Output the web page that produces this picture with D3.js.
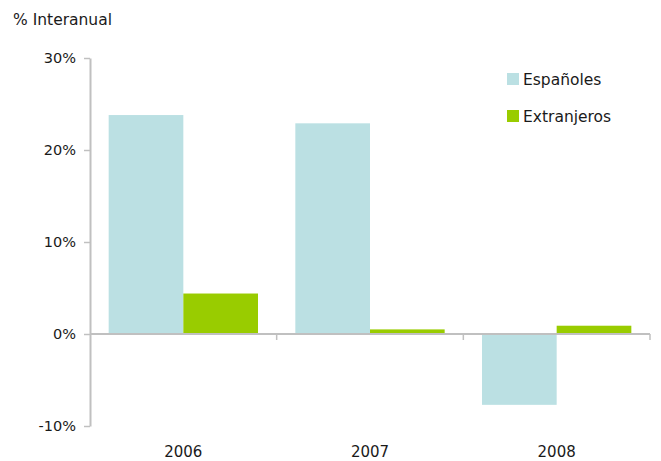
<!DOCTYPE html>
<html>
<head>
<meta charset="utf-8">
<script src="https://cdn.jsdelivr.net/npm/d3@7"></script>
<style>
  html, body { margin: 0; padding: 0; background: #fff; }
  svg { display: block; }
  text { font-family: "DejaVu Sans", sans-serif; fill: #1a1a1a; }
</style>
</head>
<body>
<svg id="chart" width="661" height="461"></svg>
<script>
// Year-on-year change (%) by nationality
const years = ["2006", "2007", "2008"];
const seriesNames = ["Españoles", "Extranjeros"];
const espanoles = [23.8, 22.9, -7.7];
const extranjeros = [4.4, 0.5, 0.9];
const yTicks = [-10, 0, 10, 20, 30];
const colors = ["#bbe0e3", "#99cc00"];
const fontStack = "'DejaVu Sans', sans-serif";

const svg = d3.select("#chart");
const plotLeft = 90, plotRight = 650, plotTop = 58, plotBottom = 426;

const x = d3.scaleBand().domain(years).range([plotLeft, plotRight]).paddingInner(0).paddingOuter(0);
const y = d3.scaleLinear().domain([-10, 30]).range([plotBottom, plotTop]);
const inner = d3.scaleBand().domain(seriesNames).range([0, x.bandwidth()]).paddingInner(0).paddingOuter(0.25);

const rows = years.map((yr, i) => ({ year: yr, values: [espanoles[i], extranjeros[i]] }));

// Bars
const groups = svg.append("g").selectAll("g").data(rows).join("g")
  .attr("transform", d => `translate(${x(d.year)},0)`);
groups.selectAll("rect")
  .data(d => d.values.map((v, k) => ({ v, k })))
  .join("rect")
  .attr("x", d => inner(seriesNames[d.k]))
  .attr("width", inner.bandwidth())
  .attr("y", d => y(Math.max(0, d.v)))
  .attr("height", d => Math.abs(y(d.v) - y(0)))
  .attr("fill", d => colors[d.k]);

// Y axis
const yAxis = svg.append("g").attr("transform", `translate(${plotLeft},0)`)
  .call(d3.axisLeft(y).tickValues(yTicks).tickFormat(d => d + "%").tickSize(6).tickSizeOuter(0).tickPadding(8));
yAxis.select(".domain").attr("stroke", "#c0c0c0").attr("stroke-width", 2);
yAxis.selectAll(".tick line").attr("stroke", "#c0c0c0").attr("stroke-width", 1.5);
yAxis.selectAll(".tick text").attr("font-size", 14.5).attr("fill", "#1a1a1a")
  .style("font-family", fontStack);

// X axis line at zero with category separators
const xAxis = svg.append("g").attr("transform", `translate(0,${y(0)})`);
xAxis.append("line").attr("x1", plotLeft).attr("x2", plotRight).attr("y1", 0).attr("y2", 0)
  .attr("stroke", "#c0c0c0").attr("stroke-width", 2);
xAxis.selectAll("line.sep").data(years).join("line").attr("class", "sep")
  .attr("x1", d => x(d) + x.bandwidth()).attr("x2", d => x(d) + x.bandwidth())
  .attr("y1", 0).attr("y2", 6).attr("stroke", "#c0c0c0").attr("stroke-width", 1.5);

// Category labels below the plot
svg.append("g").selectAll("text").data(years).join("text")
  .attr("x", d => x(d) + x.bandwidth() / 2)
  .attr("y", 457)
  .attr("text-anchor", "middle")
  .attr("font-size", 15)
  .text(d => d);

// Axis title
svg.append("text").attr("x", 13).attr("y", 25).attr("font-size", 15.5).text("% Interanual");

// Legend
const legend = svg.append("g").selectAll("g").data(seriesNames).join("g")
  .attr("transform", (d, i) => `translate(507,${73 + i * 37})`);
legend.append("rect").attr("width", 12).attr("height", 12).attr("fill", (d, i) => colors[i]);
legend.append("text").attr("x", 16).attr("y", 12).attr("font-size", 15.5).text(d => d);
</script>
</body>
</html>
